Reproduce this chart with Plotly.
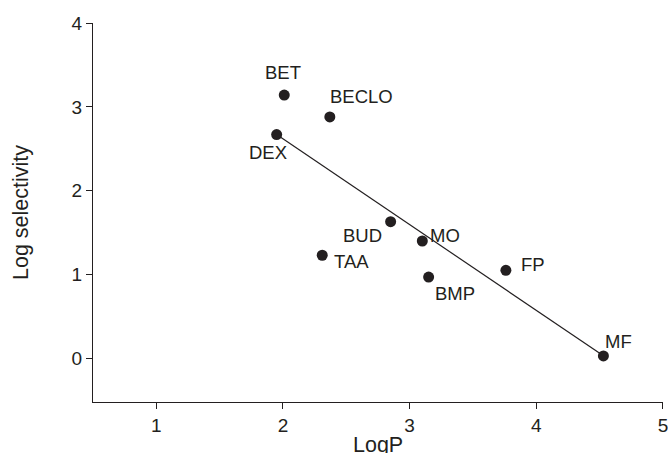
import plotly.graph_objects as go

# Data
drugs = ["BET", "BECLO", "DEX", "BUD", "MO", "TAA", "BMP", "FP", "MF"]
logp = [2.01, 2.37, 1.95, 2.85, 3.10, 2.31, 3.15, 3.76, 4.53]
log_sel = [3.14, 2.88, 2.67, 1.63, 1.40, 1.23, 0.97, 1.05, 0.03]

# Regression line parameters
fit_slope = -1.023
fit_intercept = 4.665
fit_x = [1.95, 4.53]

x_ticks = [1, 2, 3, 4, 5]
y_ticks = [0, 1, 2, 3, 4]

# Label offsets in pixels (style)
label_dx = [-1, 32, -9, -28, 23, 29, 26, 27, 15]
label_dy = [-23, -20, 18, 14, -6, 6, 16, -6, -14]

ink = "#231f20"
font_family = "Arial, Liberation Sans, Helvetica, sans-serif"

fig = go.Figure()
fig.add_trace(go.Scatter(
    x=fit_x, y=[fit_slope * v + fit_intercept for v in fit_x],
    mode="lines", line=dict(color=ink, width=1.2), hoverinfo="skip", showlegend=False))
fig.add_trace(go.Scatter(
    x=logp, y=log_sel, mode="markers",
    marker=dict(color=ink, size=11), showlegend=False, text=drugs))

for name, xv, yv, dx, dy in zip(drugs, logp, log_sel, label_dx, label_dy):
    fig.add_annotation(x=xv, y=yv, text=name, showarrow=False,
                       xanchor="center", yanchor="middle",
                       xshift=dx, yshift=-dy,
                       font=dict(size=18.5, color=ink, family=font_family))

# x-axis title as annotation for precise placement
fig.add_annotation(xref="paper", yref="paper", x=0.5, y=0, text="LogP",
                   showarrow=False, xanchor="center", yanchor="top", yshift=-29,
                   font=dict(size=21.5, color=ink, family=font_family))

axis_common = dict(showline=True, linecolor=ink, linewidth=1.3,
                   ticks="outside", ticklen=6, tickwidth=1.3, tickcolor=ink,
                   showgrid=False, zeroline=False, automargin=False,
                   ticklabeloverflow="allow",
                   tickfont=dict(size=19, color=ink, family=font_family))

fig.update_layout(
    width=668, height=453,
    margin=dict(l=93, r=4.7, t=22.7, b=51.3),
    paper_bgcolor="white", plot_bgcolor="white",
    xaxis=dict(range=[0.5, 5.0005], tickvals=x_ticks, **axis_common),
    yaxis=dict(range=[-0.52, 4], tickvals=y_ticks,
               title=dict(text="Log selectivity", standoff=36,
                          font=dict(size=21.5, color=ink, family=font_family)),
               **axis_common),
)

fig.write_html("out.html", config={"displayModeBar": False},
               post_script="document.body.style.margin='0';document.body.style.overflow='hidden';")
